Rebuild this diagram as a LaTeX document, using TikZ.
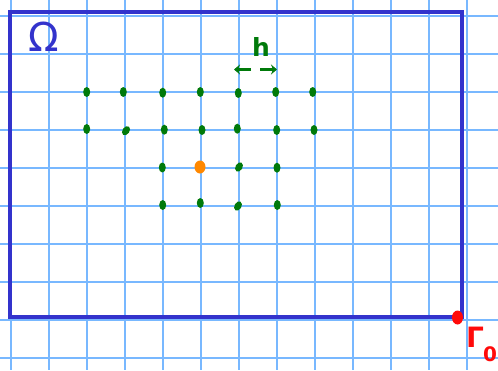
\documentclass[tikz,border=0pt]{standalone}
\usepackage{fontspec}
\newfontfamily\hand{DejaVu Sans}
\definecolor{gridblue}{HTML}{78B8FF}
\definecolor{rectblue}{HTML}{3333CC}
\definecolor{dotgreen}{HTML}{007A0A}
\definecolor{dotorange}{HTML}{FF8800}
\definecolor{gred}{HTML}{FF0A0A}
\usetikzlibrary{shapes.geometric,arrows.meta}
\tikzset{
  gridline/.style={draw=gridblue, line width=1.5pt},
  domainbox/.style={draw=rectblue, line width=4pt},
  gdot/.style={ellipse, fill=dotgreen, minimum width=7pt, minimum height=10pt, inner sep=0pt},
  odot/.style={ellipse, fill=dotorange, minimum width=11pt, minimum height=13pt, inner sep=0pt},
  rdot/.style={ellipse, fill=gred, minimum width=11pt, minimum height=14pt, inner sep=0pt},
  hlabel/.style={text=dotgreen, font=\hand\bfseries\fontsize{25}{25}\selectfont, inner sep=0pt},
  harrow/.style={draw=dotgreen, line width=2.6pt, -{Stealth[length=6pt,width=10pt]}},
}
\begin{document}
\begin{tikzpicture}[x=1pt,y=-1pt]
\useasboundingbox (0,0) rectangle (498,370);
\fill[white] (0,0) rectangle (498,370);
% grid
\foreach \gx in {11,49,87,125,163,201,239,277,315,353,391,429,467}
  \draw[gridline] (\gx,0) -- (\gx,370);
\foreach \gy in {16,54,92,130,168,206,244,282,320,358}
  \draw[gridline] (0,\gy) -- (498,\gy);
% domain
\draw[domainbox] (9.5,11.5) rectangle (461.5,316.5);
% Omega
\node[text=rectblue, font=\hand\fontsize{40}{40}\selectfont, inner sep=0pt] (omega) at (44,37) {Ω};
% dots row 1
\node[gdot] (a1) at (86.7,92) {};
\node[gdot] (a2) at (123.3,92) {};
\node[gdot] (a3) at (162.7,92.7) {};
\node[gdot] (a4) at (200.3,92) {};
\node[gdot] (a5) at (238.3,93) {};
\node[gdot] (a6) at (275.7,92) {};
\node[gdot] (a7) at (312.7,92) {};
% row 2
\node[gdot] (b1) at (86.7,129) {};
\node[gdot, rotate=-35] (b2) at (126,130.7) {};
\node[gdot] (b3) at (164.3,129.7) {};
\node[gdot] (b4) at (202,130) {};
\node[gdot] (b5) at (237.3,128.7) {};
\node[gdot] (b6) at (276.7,130) {};
\node[gdot] (b7) at (314,130) {};
% row 3
\node[gdot] (c1) at (162.3,167.5) {};
\node[odot] (c2) at (200,167) {};
\node[gdot, rotate=-30] (c3) at (239,167) {};
\node[gdot] (c4) at (277,167.7) {};
% row 4
\node[gdot] (d1) at (162.7,205) {};
\node[gdot] (d2) at (200.3,203) {};
\node[gdot, rotate=-30] (d3) at (238,206) {};
\node[gdot] (d4) at (277.3,205) {};
% h label and arrows
\node[hlabel] (h) at (261,47) {h};
\coordinate (hl0) at (251,69.5);
\coordinate (hl1) at (234,69.5);
\coordinate (hr0) at (260,69.5);
\coordinate (hr1) at (277,69.5);
\draw[harrow] (hl0) -- (hl1);
\draw[harrow] (hr0) -- (hr1);
% Gamma_0
\node[rdot] (corner) at (457.5,317.5) {};
\node[text=gred, font=\hand\bfseries\fontsize{28}{28}\selectfont, inner sep=0pt, anchor=north west] (gam) at (466,327)
  {Γ\kern-1pt\raisebox{-14pt}{\fontsize{20}{20}\selectfont 0}};
\end{tikzpicture}
\end{document}
